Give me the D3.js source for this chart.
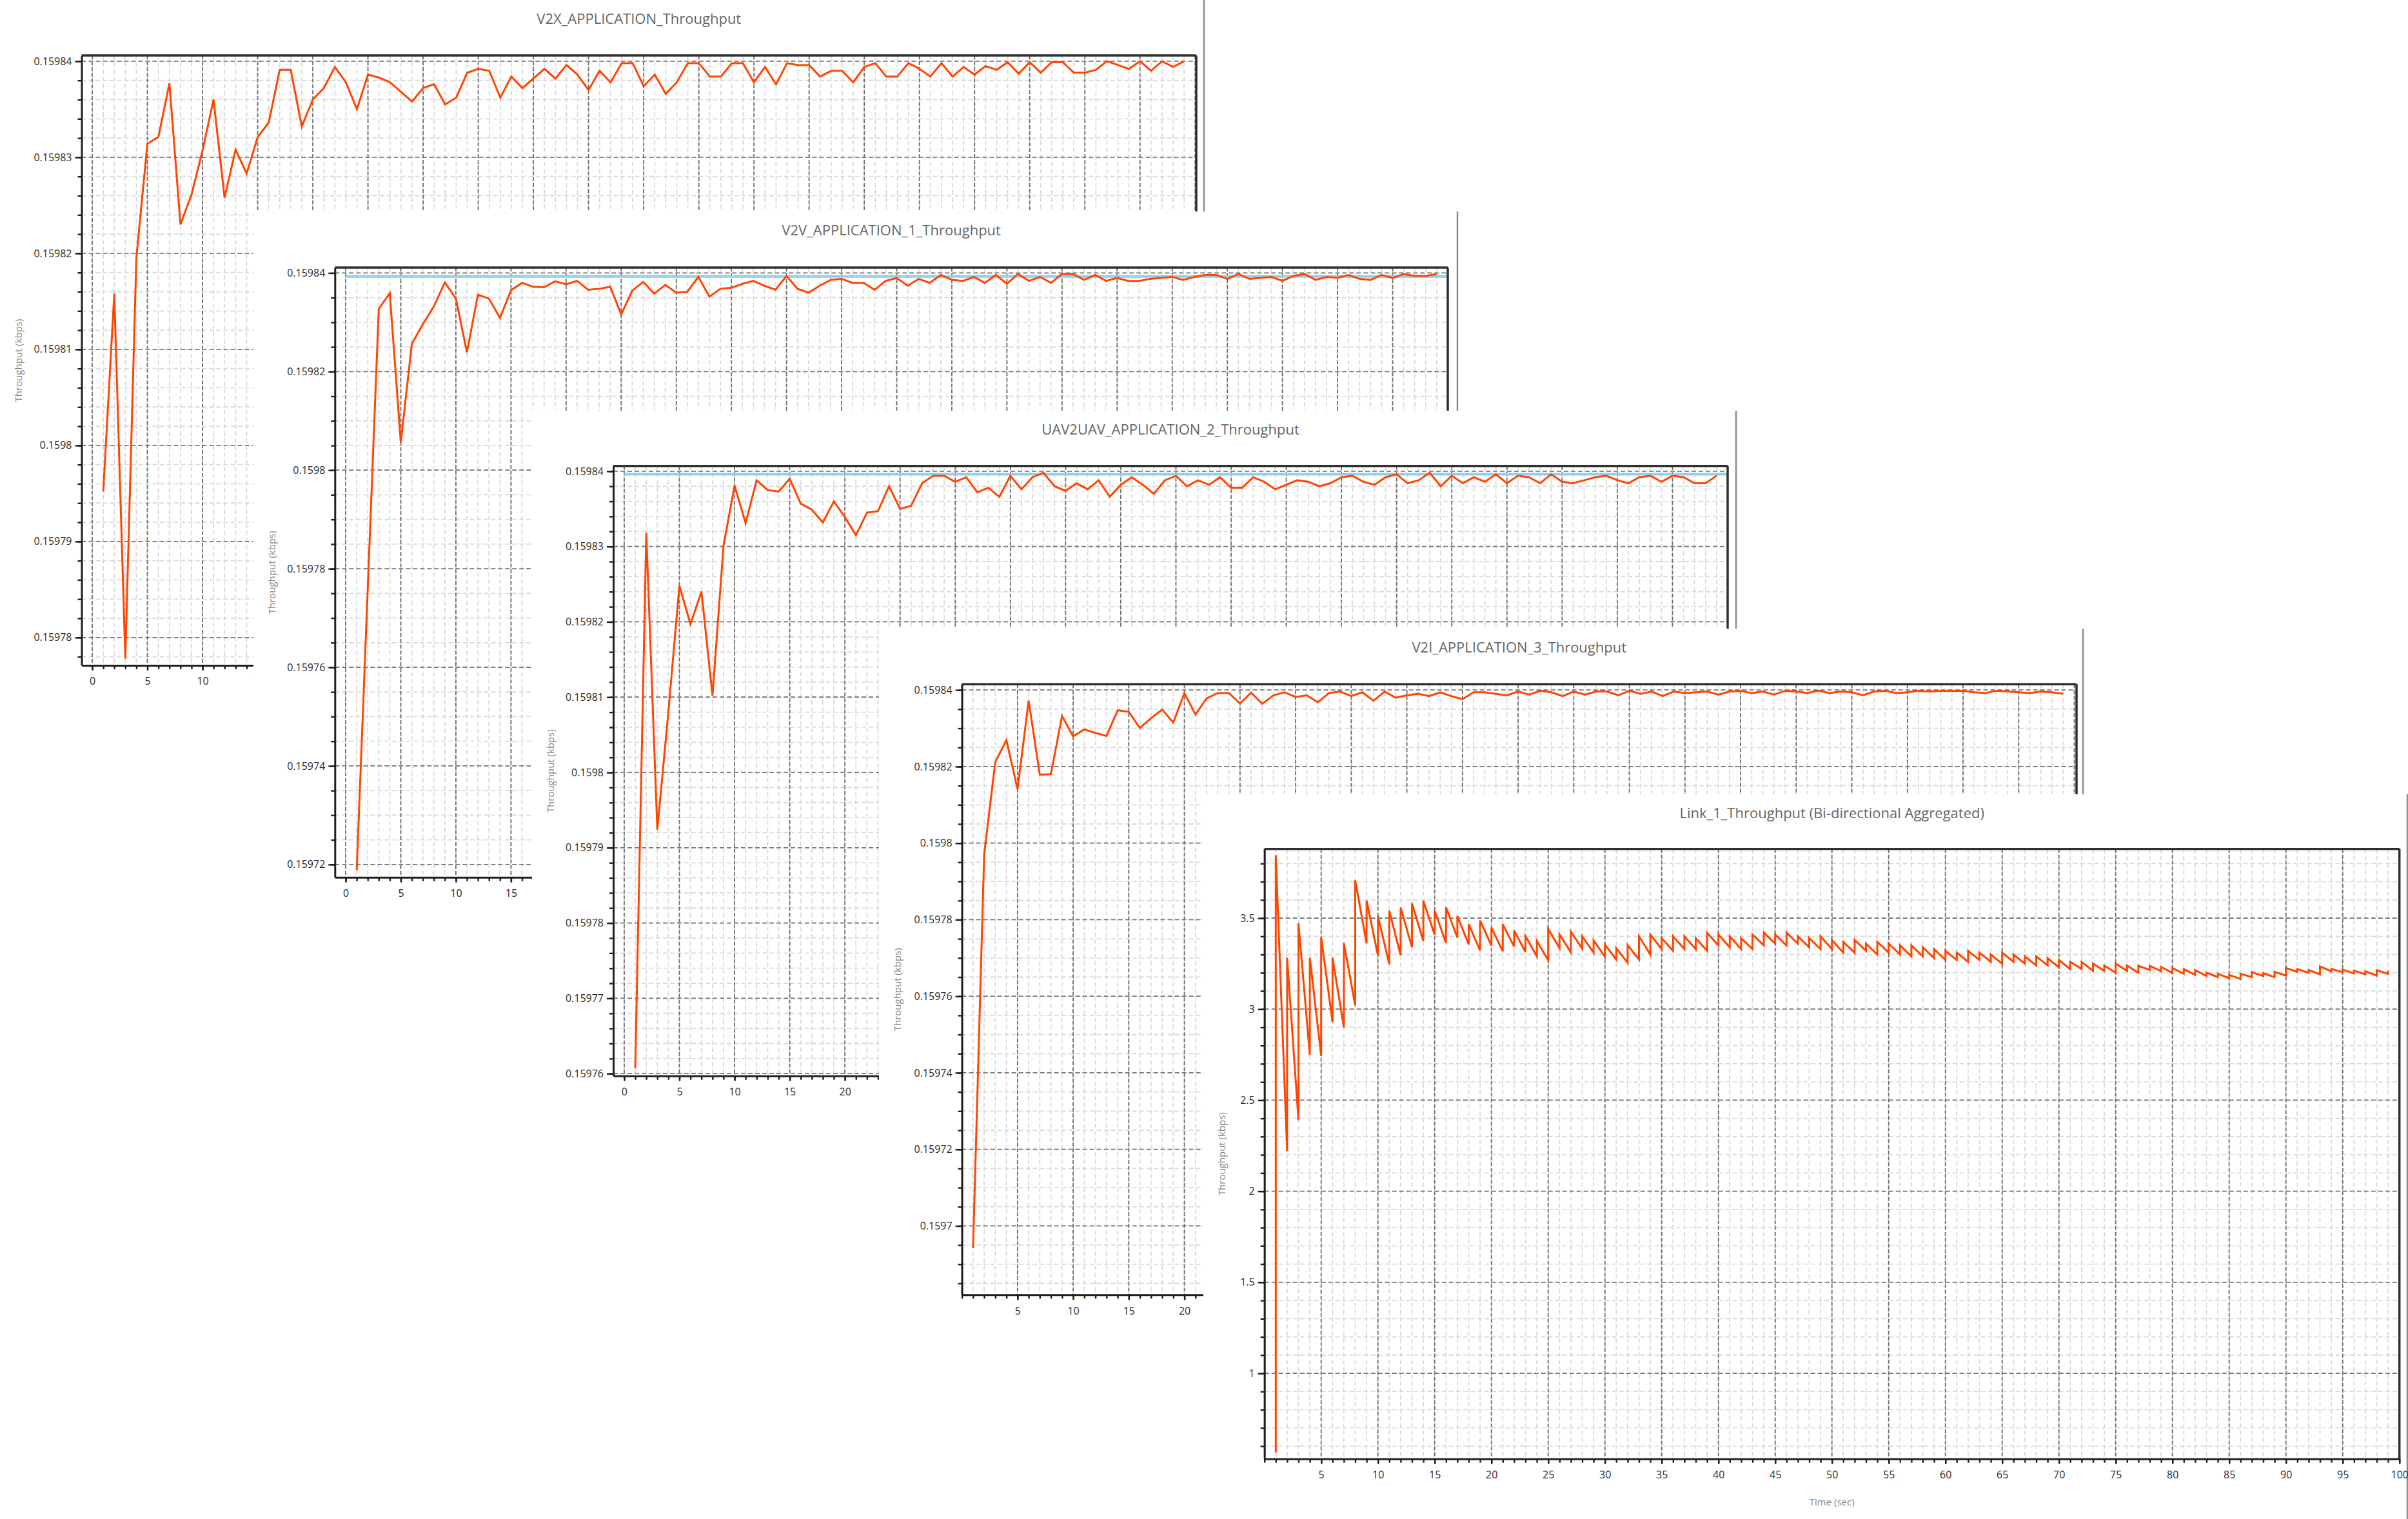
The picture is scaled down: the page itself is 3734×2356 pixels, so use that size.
<!DOCTYPE html>
<html>
<head>
<meta charset="utf-8">
<script src="https://cdn.jsdelivr.net/npm/d3@7"></script>
<style>
  body { margin: 0; background: #fff; }
  text { font-family: "Open Sans", "Noto Sans", sans-serif; }
</style>
</head>
<body>
<div id="chart"></div>
<script>
// Simulation time (sec) of every sample
const time = [1,2,3,4,5,6,7,8,9,10,11,12,13,14,15,16,17,18,19,20,21,22,23,24,25,26,27,28,29,30,
  31,32,33,34,35,36,37,38,39,40,41,42,43,44,45,46,47,48,49,50,51,52,53,54,55,56,57,58,59,60,
  61,62,63,64,65,66,67,68,69,70,71,72,73,74,75,76,77,78,79,80,81,82,83,84,85,86,87,88,89,90,
  91,92,93,94,95,96,97,98,99];

// V2X_APPLICATION_Throughput (kbps)
const v2xThroughput = [0.1597952, 0.1598158, 0.1597778, 0.1598195, 0.1598314, 0.1598321, 0.1598377, 0.1598230, 0.1598261, 0.1598307,
  0.1598360, 0.1598258, 0.1598308, 0.1598283, 0.1598321, 0.1598336, 0.1598391, 0.1598391, 0.1598332, 0.1598360,
  0.1598372, 0.1598394, 0.1598378, 0.1598350, 0.1598386, 0.1598383,
  0.1598378, 0.1598368, 0.1598358, 0.1598372, 0.1598376, 0.1598355, 0.1598362, 0.1598388, 0.1598392, 0.1598390,
  0.1598362, 0.1598384, 0.1598372, 0.1598382, 0.1598392, 0.1598382, 0.1598396, 0.1598386, 0.1598370, 0.1598390,
  0.1598378, 0.1598398, 0.1598398, 0.1598374, 0.1598386, 0.1598366, 0.1598378, 0.1598398, 0.1598398, 0.1598384,
  0.1598384, 0.1598398, 0.1598398, 0.1598378, 0.1598394, 0.1598376, 0.1598398, 0.1598396, 0.1598396, 0.1598384,
  0.1598390, 0.1598390, 0.1598378, 0.1598394, 0.1598398, 0.1598384, 0.1598384, 0.1598398, 0.1598392, 0.1598384,
  0.1598398, 0.1598384, 0.1598394,
  0.1598386, 0.1598395, 0.1598391, 0.1598399, 0.1598387, 0.1598399, 0.1598388, 0.1598399, 0.1598399, 0.1598388,
  0.1598388, 0.1598391, 0.1598400, 0.1598396, 0.1598392, 0.1598400, 0.1598390, 0.1598400, 0.1598394, 0.1598400];

// V2V_APPLICATION_1_Throughput (kbps)
const v2vThroughput = [0.1597188, 0.1597759, 0.1598327, 0.1598359, 0.1598056, 0.1598256, 0.1598296, 0.1598332, 0.1598381, 0.1598348,
  0.1598239, 0.1598356, 0.1598348, 0.1598309, 0.1598365, 0.1598380, 0.1598372, 0.1598371, 0.1598383, 0.1598377,
  0.1598384, 0.1598366, 0.1598368, 0.1598372, 0.1598316, 0.1598364, 0.1598382, 0.1598358, 0.1598376, 0.1598360,
  0.1598362, 0.1598392, 0.1598352, 0.1598368, 0.1598370, 0.1598378, 0.1598384, 0.1598374, 0.1598366, 0.1598394,
  0.1598368, 0.1598360, 0.1598374, 0.1598386, 0.1598388, 0.1598380, 0.1598380, 0.1598366, 0.1598384, 0.1598390,
  0.1598374, 0.1598388, 0.1598380, 0.1598396, 0.1598386, 0.1598384, 0.1598392, 0.1598380, 0.1598396, 0.1598378,
  0.1598398, 0.1598384, 0.1598392, 0.1598380, 0.1598398, 0.1598398, 0.1598386, 0.1598396, 0.1598384, 0.1598390,
  0.1598384, 0.1598384, 0.1598388, 0.1598390, 0.1598392, 0.1598386, 0.1598392, 0.1598396, 0.1598396, 0.1598388,
  0.1598398, 0.1598388, 0.1598390, 0.1598392, 0.1598384, 0.1598394, 0.1598398, 0.1598386, 0.1598392, 0.1598390,
  0.1598396, 0.1598388, 0.1598386, 0.1598396, 0.1598390, 0.1598398, 0.1598394, 0.1598394, 0.1598398];

// UAV2UAV_APPLICATION_2_Throughput (kbps)
const uavThroughput = [0.1597607, 0.1598318, 0.1597924, 0.1598080, 0.1598248, 0.1598197, 0.1598240, 0.1598102, 0.1598301, 0.1598381,
  0.1598331, 0.1598388, 0.1598375, 0.1598373, 0.1598390, 0.1598357, 0.1598349, 0.1598332, 0.1598360, 0.1598339,
  0.1598315, 0.1598345, 0.1598347, 0.1598380, 0.1598350, 0.1598354,
  0.1598384, 0.1598394, 0.1598394, 0.1598386, 0.1598392, 0.1598372, 0.1598378, 0.1598366, 0.1598394, 0.1598376,
  0.1598392, 0.1598398, 0.1598380, 0.1598374, 0.1598384, 0.1598376, 0.1598388, 0.1598366, 0.1598382, 0.1598392,
  0.1598382, 0.1598370, 0.1598388, 0.1598394, 0.1598380, 0.1598388, 0.1598382, 0.1598392, 0.1598378, 0.1598378,
  0.1598392, 0.1598386, 0.1598376, 0.1598382, 0.1598388, 0.1598386, 0.1598380, 0.1598384, 0.1598392, 0.1598394,
  0.1598386, 0.1598382, 0.1598392, 0.1598396, 0.1598384, 0.1598388, 0.1598398, 0.1598380, 0.1598394, 0.1598384,
  0.1598392, 0.1598386, 0.1598396, 0.1598384, 0.1598394, 0.1598392, 0.1598384, 0.1598396, 0.1598386, 0.1598384,
  0.1598388, 0.1598392, 0.1598394, 0.1598388, 0.1598384, 0.1598392, 0.1598394, 0.1598386, 0.1598394, 0.1598392,
  0.1598384, 0.1598384, 0.1598394];

// V2I_APPLICATION_3_Throughput (kbps)
const v2iThroughput = [0.1596942, 0.1597970, 0.1598212, 0.1598269, 0.1598141, 0.1598372, 0.1598179, 0.1598180, 0.1598332, 0.1598279,
  0.1598297, 0.1598288, 0.1598280, 0.1598347, 0.1598343, 0.1598301, 0.1598326, 0.1598349, 0.1598315, 0.1598392,
  0.1598336, 0.1598378, 0.1598392, 0.1598392, 0.1598365, 0.1598393,
  0.1598364, 0.1598386, 0.1598394, 0.1598382, 0.1598386, 0.1598368, 0.1598392, 0.1598396, 0.1598384, 0.1598394,
  0.1598372, 0.1598396, 0.1598380, 0.1598386, 0.1598390, 0.1598384, 0.1598394, 0.1598384, 0.1598376, 0.1598394,
  0.1598394, 0.1598390, 0.1598386, 0.1598396, 0.1598388, 0.1598398, 0.1598394, 0.1598384, 0.1598396, 0.1598388,
  0.1598396, 0.1598396, 0.1598386, 0.1598398, 0.1598390, 0.1598396, 0.1598384, 0.1598396, 0.1598392, 0.1598394,
  0.1598396, 0.1598388, 0.1598396, 0.1598398, 0.1598392, 0.1598396, 0.1598388, 0.1598398, 0.1598396, 0.1598392,
  0.1598398, 0.1598392, 0.1598396, 0.1598394, 0.1598386, 0.1598396, 0.1598398, 0.1598392, 0.1598394, 0.1598398,
  0.1598396, 0.1598398, 0.1598398, 0.1598398, 0.1598394, 0.1598392, 0.1598398, 0.1598396, 0.1598394, 0.1598392,
  0.1598396, 0.1598394, 0.1598390];

// Link_1 aggregated throughput: value just before and just after each update
const linkLow = [0.565, 2.22, 2.39, 2.75, 2.744, 2.928, 2.90, 3.02, 3.361, 3.296,
  3.246, 3.296, 3.34, 3.375, 3.408, 3.364, 3.393, 3.355, 3.322, 3.349,
  3.318, 3.344, 3.314, 3.29, 3.269, 3.335, 3.312, 3.332, 3.311, 3.288,
  3.272, 3.255, 3.273, 3.30, 3.33, 3.32, 3.33, 3.33, 3.32, 3.35,
  3.34, 3.33, 3.33, 3.35, 3.36, 3.35, 3.36, 3.34, 3.33, 3.33,
  3.31, 3.31, 3.32, 3.30, 3.31, 3.30, 3.29, 3.29, 3.28, 3.27,
  3.27, 3.26, 3.27, 3.26, 3.25, 3.26, 3.25, 3.24, 3.24, 3.23,
  3.22, 3.22, 3.21, 3.21, 3.20, 3.21, 3.199, 3.215, 3.208, 3.199,
  3.194, 3.188, 3.182, 3.176, 3.170, 3.166, 3.176, 3.182, 3.176, 3.184,
  3.205, 3.199, 3.191, 3.208, 3.203, 3.196, 3.191, 3.184, 3.194];
const linkHigh = [3.846, 3.282, 3.472, 3.282, 3.396, 3.282, 3.364, 3.708, 3.596, 3.512,
  3.541, 3.558, 3.581, 3.596, 3.541, 3.559, 3.511, 3.467, 3.487, 3.447,
  3.467, 3.432, 3.402, 3.375, 3.441, 3.411, 3.426, 3.40, 3.378, 3.355,
  3.335, 3.352, 3.40, 3.41, 3.39, 3.40, 3.40, 3.39, 3.42, 3.41,
  3.40, 3.39, 3.41, 3.42, 3.41, 3.42, 3.40, 3.39, 3.40, 3.38,
  3.37, 3.38, 3.36, 3.37, 3.36, 3.35, 3.35, 3.34, 3.33, 3.32,
  3.31, 3.32, 3.31, 3.30, 3.31, 3.30, 3.29, 3.29, 3.28, 3.27,
  3.26, 3.26, 3.25, 3.24, 3.25, 3.24, 3.238, 3.238, 3.232, 3.226,
  3.22, 3.214, 3.20, 3.194, 3.188, 3.194, 3.203, 3.197, 3.205, 3.226,
  3.22, 3.215, 3.234, 3.221, 3.217, 3.211, 3.208, 3.214, 3.211];

// light blue reference levels
const v2vReference = 0.1598393;
const uavReference = 0.1598396;

// tick labels
const v2xTicks = [0.15978, 0.15979, 0.1598, 0.15981, 0.15982, 0.15983, 0.15984];
const v2vTicks = [0.15972, 0.15974, 0.15976, 0.15978, 0.1598, 0.15982, 0.15984];
const uavTicks = [0.15976, 0.15977, 0.15978, 0.15979, 0.1598, 0.15981, 0.15982, 0.15983, 0.15984];
const v2iTicks = [0.1597, 0.15972, 0.15974, 0.15976, 0.15978, 0.1598, 0.15982, 0.15984];
const linkTicks = [1, 1.5, 2, 2.5, 3, 3.5];
const timeTicks = [0, 5, 10, 15, 20, 25, 30, 35, 40, 45, 50, 55, 60, 65, 70, 75, 80, 85, 90, 95, 100];

const W = 3734, H = 2356, WIN_W = 1867;

var svg = d3.select("#chart").append("svg")
    .attr("width", W)
    .attr("height", H);

function asPoints(values) {
    return time.map(function(t, i) { return {t: t, v: values[i]}; })
        .filter(function(d) { return d.v !== undefined; });
}

// sawtooth: jump at every sample time
var linkPoints = [];
time.forEach(function(t, i) {
    if (linkLow[i] !== undefined) linkPoints.push({t: t, v: linkLow[i]});
    if (linkHigh[i] !== undefined) linkPoints.push({t: t, v: linkHigh[i]});
});

function minorTicks(domain, step) {
    var k0 = Math.ceil(domain[0] / step - 1e-6), k1 = Math.floor(domain[1] / step + 1e-6);
    return d3.range(k0, k1 + 1).map(function(k) { return +(k * step).toFixed(8); });
}

const fmt = d3.format(".5~f");

// window layouts (pixels)
var windows = [
    {title: "V2X_APPLICATION_Throughput", points: asPoints(v2xThroughput), yTicks: v2xTicks, yStep: 0.000002,
     wx: 0, wy: 0, wh: 1100, left: 126.5, right: 1855, top: 86, bottom: 1032,
     xDomain: [-0.965, 100.1], yDomain: [0.1597771, 0.1598406], xLabels: timeTicks},
    {title: "V2V_APPLICATION_1_Throughput", points: asPoints(v2vThroughput), yTicks: v2vTicks, yStep: 0.000005,
     wx: 393, wy: 328, wh: 1100, left: 519.3, right: 2245, top: 415, bottom: 1360.7,
     xDomain: [-0.98, 100], yDomain: [0.1597174, 0.1598411], xLabels: timeTicks, ref: v2vReference},
    {title: "UAV2UAV_APPLICATION_2_Throughput", points: asPoints(uavThroughput), yTicks: uavTicks, yStep: 0.000002,
     wx: 825, wy: 637, wh: 1100, left: 951, right: 2679, top: 722.7, bottom: 1668.7,
     xDomain: [-0.99, 100], yDomain: [0.1597597, 0.1598407], xLabels: timeTicks, ref: uavReference},
    {title: "V2I_APPLICATION_3_Throughput", points: asPoints(v2iThroughput), yTicks: v2iTicks, yStep: 0.000005,
     wx: 1363, wy: 975, wh: 1100, left: 1491.6, right: 3220, top: 1061.3, bottom: 2008.3,
     xDomain: [0, 100.2], yDomain: [0.159682, 0.1598415], xLabels: timeTicks.slice(1)},
    {title: "Link_1_Throughput (Bi-directional Aggregated)", points: linkPoints, yTicks: linkTicks, yStep: 0.1,
     wx: 1866, wy: 1232, wh: 1124, left: 1960.7, right: 3720.7, top: 1316.7, bottom: 2262.7,
     xDomain: [0, 100], yDomain: [0.53, 3.88], xLabels: timeTicks.slice(1), xTitle: "Time (sec)"}
];

var windowGroups = [];

windows.forEach(function(c, wi) {
    var g = svg.append("g");
    windowGroups.push(g);

    // window background and splitter on the right
    g.append("rect")
        .attr("x", c.wx).attr("y", c.wy)
        .attr("width", WIN_W).attr("height", c.wh)
        .attr("fill", "#fff");
    g.append("line")
        .attr("x1", c.wx + WIN_W).attr("x2", c.wx + WIN_W)
        .attr("y1", c.wy).attr("y2", c.wy + c.wh)
        .attr("stroke", "#8c8c8c").attr("stroke-width", 2.5);

    var x = d3.scaleLinear().domain(c.xDomain).range([c.left, c.right]);
    var y = d3.scaleLinear().domain(c.yDomain).range([c.bottom, c.top]);

    var xMinor = minorTicks(c.xDomain, 1);
    var yMinor = minorTicks(c.yDomain, c.yStep);
    var xMajor = timeTicks.filter(function(d) { return d >= c.xDomain[0] && d <= c.xDomain[1]; });

    // minor grid
    var grid = g.append("g");
    grid.selectAll(".vminor").data(xMinor).enter().append("line")
        .attr("x1", function(d) { return x(d); }).attr("x2", function(d) { return x(d); })
        .attr("y1", c.top).attr("y2", c.bottom)
        .attr("stroke", "#dadada").attr("stroke-width", 1.8).attr("stroke-dasharray", "7,4");
    grid.selectAll(".hminor").data(yMinor).enter().append("line")
        .attr("x1", c.left).attr("x2", c.right)
        .attr("y1", function(d) { return y(d); }).attr("y2", function(d) { return y(d); })
        .attr("stroke", "#dadada").attr("stroke-width", 1.8).attr("stroke-dasharray", "7,4");
    // major grid
    grid.selectAll(".vmajor").data(xMajor).enter().append("line")
        .attr("x1", function(d) { return x(d); }).attr("x2", function(d) { return x(d); })
        .attr("y1", c.top).attr("y2", c.bottom)
        .attr("stroke", "#6e6e6e").attr("stroke-width", 1.8).attr("stroke-dasharray", "6,3");
    grid.selectAll(".hmajor").data(c.yTicks).enter().append("line")
        .attr("x1", c.left).attr("x2", c.right)
        .attr("y1", function(d) { return y(d); }).attr("y2", function(d) { return y(d); })
        .attr("stroke", "#7a7a7a").attr("stroke-width", 1.8).attr("stroke-dasharray", "7,4");

    // clip for the plotted series
    var clipId = "clip" + wi;
    g.append("clipPath").attr("id", clipId).append("rect")
        .attr("x", c.left).attr("y", c.top)
        .attr("width", c.right - c.left).attr("height", c.bottom - c.top);
    var plot = g.append("g").attr("clip-path", "url(#" + clipId + ")");

    if (c.ref !== undefined) {
        plot.append("line")
            .attr("x1", x(0)).attr("x2", x(100))
            .attr("y1", y(c.ref)).attr("y2", y(c.ref))
            .attr("stroke", "#8fd0ea").attr("stroke-width", 4);
    }

    var line = d3.line()
        .x(function(d) { return x(d.t); })
        .y(function(d) { return y(d.v); });
    plot.append("path")
        .datum(c.points)
        .attr("d", line)
        .attr("fill", "none")
        .attr("stroke", "#ff4500")
        .attr("stroke-width", 3)
        .attr("stroke-linejoin", "miter");

    // axes
    var yAxis = g.append("g")
        .attr("transform", "translate(" + c.left + ",0)")
        .call(d3.axisLeft(y).tickValues(c.yTicks).tickSize(10).tickSizeOuter(0).tickPadding(5).tickFormat(fmt));
    var yAxisMinor = g.append("g")
        .attr("transform", "translate(" + c.left + ",0)")
        .call(d3.axisLeft(y).tickValues(yMinor).tickSize(6).tickFormat(""));
    yAxisMinor.select(".domain").remove();
    yAxisMinor.selectAll("text").remove();

    var xAxis = g.append("g")
        .attr("transform", "translate(0," + c.bottom + ")")
        .call(d3.axisBottom(x).tickValues(c.xLabels).tickSize(8).tickSizeOuter(0).tickPadding(11).tickFormat(fmt));
    var xAxisMinor = g.append("g")
        .attr("transform", "translate(0," + c.bottom + ")")
        .call(d3.axisBottom(x).tickValues(xMinor).tickSize(6).tickFormat(""));
    xAxisMinor.select(".domain").remove();
    xAxisMinor.selectAll("text").remove();

    [yAxis, xAxis, yAxisMinor, xAxisMinor].forEach(function(a) {
        a.selectAll("line").attr("stroke", "#1e1e1e").attr("stroke-width", 2.4);
        a.selectAll(".domain").attr("stroke", "#1e1e1e").attr("stroke-width", 3);
        a.selectAll("text")
            .attr("fill", "#2b2b2b")
            .style("font-size", "16px")
            .style("font-family", "'Open Sans', sans-serif");
    });

    // top and right border of the plot
    g.append("line")
        .attr("x1", c.left).attr("x2", c.right).attr("y1", c.top).attr("y2", c.top)
        .attr("stroke", "#2e2e2e").attr("stroke-width", 3.5);
    g.append("line")
        .attr("x1", c.right).attr("x2", c.right).attr("y1", c.top).attr("y2", c.bottom)
        .attr("stroke", "#2e2e2e").attr("stroke-width", 3.5);

    // titles
    g.append("text")
        .attr("x", (c.left + c.right) / 2)
        .attr("y", c.wy + 37)
        .attr("text-anchor", "middle")
        .attr("fill", "#666")
        .style("font-size", "22px")
        .text(c.title);

    g.append("text")
        .attr("transform", "translate(" + (c.wx + 34) + "," + ((c.top + c.bottom) / 2) + ") rotate(-90)")
        .attr("text-anchor", "middle")
        .attr("fill", "#888")
        .style("font-size", "15px")
        .text("Throughput (kbps)");

    if (c.xTitle) {
        g.append("text")
            .attr("x", (c.left + c.right) / 2)
            .attr("y", c.bottom + 72)
            .attr("text-anchor", "middle")
            .attr("fill", "#888")
            .style("font-size", "15px")
            .text(c.xTitle);
    }
});

// a covered label of a back window must not sit under a label of a window in front of it
function overlaps(a, b) {
    return a.left < b.right && b.left < a.right && a.top < b.bottom && b.top < a.bottom;
}
windowGroups.forEach(function(g, i) {
    var front = [];
    windowGroups.slice(i + 1).forEach(function(f) {
        f.selectAll("text").each(function() { front.push(this.getBoundingClientRect()); });
    });
    g.selectAll("text").each(function() {
        var r = this.getBoundingClientRect();
        if (front.some(function(b) { return overlaps(r, b); })) d3.select(this).remove();
    });
});
</script>
</body>
</html>
